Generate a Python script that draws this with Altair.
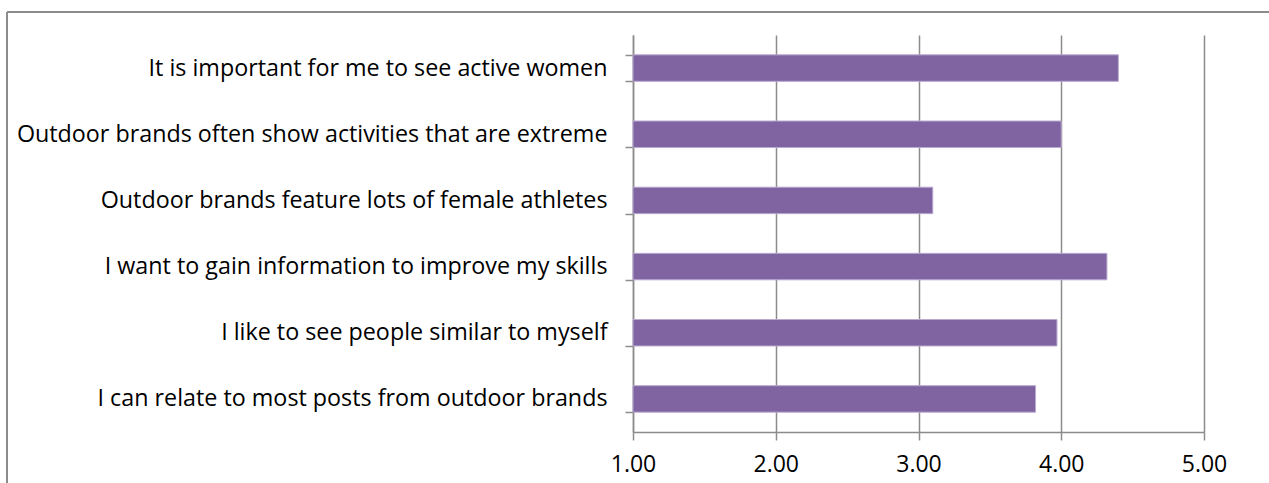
import altair as alt
import pandas as pd

statements = [
    "It is important for me to see active women",
    "Outdoor brands often show activities that are extreme",
    "Outdoor brands feature lots of female athletes",
    "I want to gain information to improve my skills",
    "I like to see people similar to myself",
    "I can relate to most posts from outdoor brands",
]
scores = [4.40, 4.00, 3.10, 4.32, 3.97, 3.82]
x_ticks = [1, 2, 3, 4, 5]

df = pd.DataFrame({"statement": statements, "score": scores})

FONT = "Open Sans"
GRAY = "#8c8c8c"

bars = alt.Chart(df).mark_bar(
    color="#8064A2", stroke="#b9a9d0", strokeWidth=1
).encode(
    y=alt.Y(
        "statement:N",
        sort=None,
        title=None,
        scale=alt.Scale(paddingInner=0.6, paddingOuter=0.3),
        axis=alt.Axis(
            tickBand="extent",
            tickSize=8,
            tickColor=GRAY,
            tickWidth=1.5,
            domainColor=GRAY,
            domainWidth=1.5,
            labelFont=FONT,
            labelFontSize=23.3,
            labelColor="#000000",
            labelPadding=18,
            labelLimit=700,
        ),
    ),
    x=alt.X(
        "score:Q",
        title=None,
        scale=alt.Scale(domain=[1, 5], zero=False, nice=False),
        axis=alt.Axis(
            values=x_ticks,
            format=".2f",
            grid=True,
            gridColor=GRAY,
            gridWidth=1.5,
            tickSize=8,
            tickColor=GRAY,
            tickWidth=1.5,
            domainColor=GRAY,
            domainWidth=1.5,
            labelFont=FONT,
            labelFontSize=23,
            labelColor="#000000",
            labelPadding=13,
            labelFlush=False,
        ),
    ),
    x2=alt.datum(1),
)

border_left = alt.Chart(df).mark_rule(color=GRAY, strokeWidth=2, clip=False).encode(
    x=alt.value(-626), y=alt.value(-23), y2=alt.value(460)
)
border_top = alt.Chart(df).mark_rule(color=GRAY, strokeWidth=2, clip=False).encode(
    x=alt.value(-626), x2=alt.value(650), y=alt.value(-23)
)

chart = alt.layer(border_left, border_top, bars).properties(
    width=571,
    height=397,
    autosize=alt.AutoSizeParams(type="none"),
    padding={"left": 633, "top": 35, "right": 65, "bottom": 51},
).configure(background="white", view=alt.ViewConfig(stroke=None))

chart.save("out.html", embed_options={"renderer": "svg", "actions": False})
